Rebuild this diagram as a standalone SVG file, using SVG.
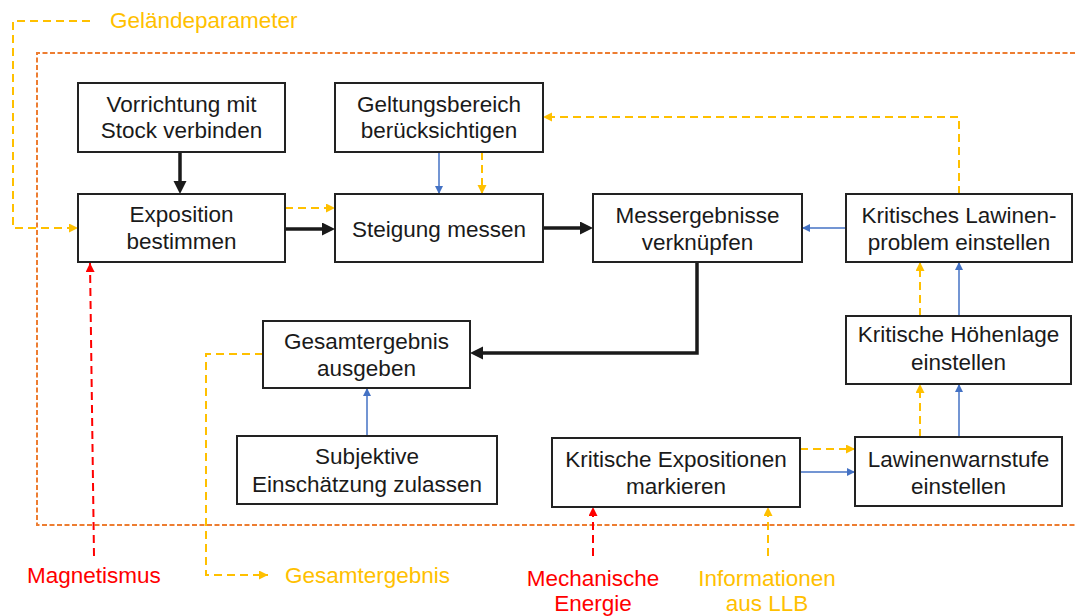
<svg xmlns="http://www.w3.org/2000/svg" width="1075" height="616" viewBox="0 0 1075 616">
  <style>
    .box{fill:#fff;stroke:#222;stroke-width:2}
    .t{font-family:"Liberation Sans",Arial,sans-serif;font-size:22.5px;fill:#1a1a1a;text-anchor:middle}
    .lbl{font-family:"Liberation Sans",Arial,sans-serif;font-size:22.5px}
    .blk{stroke:#1a1a1a;stroke-width:3.5;fill:none}
    .blu{stroke:#4472C4;stroke-width:1.5;fill:none}
    .ylw{stroke:#FFC000;stroke-width:2;fill:none;stroke-dasharray:8 5}
    .red{stroke:#FF0000;stroke-width:2;fill:none;stroke-dasharray:8 5}
    .org{stroke:#ED7D31;stroke-width:2;fill:none;stroke-dasharray:5 2.5}
  </style>
  <defs>
    <marker id="ahBlk" markerUnits="userSpaceOnUse" markerWidth="14" markerHeight="14" refX="9" refY="6.5" orient="auto">
      <path d="M0,0 L13,6.5 L0,13 z" fill="#1a1a1a"/>
    </marker>
    <marker id="ahBlu" markerUnits="userSpaceOnUse" markerWidth="10" markerHeight="10" refX="8" refY="4" orient="auto">
      <path d="M0,0 L8,4 L0,8 z" fill="#4472C4"/>
    </marker>
    <marker id="ahYlw" markerUnits="userSpaceOnUse" markerWidth="10" markerHeight="10" refX="9" refY="4.5" orient="auto">
      <path d="M0,0 L9,4.5 L0,9 z" fill="#FFC000"/>
    </marker>
    <marker id="ahRed" markerUnits="userSpaceOnUse" markerWidth="10" markerHeight="10" refX="9" refY="4.5" orient="auto">
      <path d="M0,0 L9,4.5 L0,9 z" fill="#FF0000"/>
    </marker>
  </defs>

  <!-- system boundary -->
  <path id="boundary" class="org" d="M1075,53 H37 V525 H1075"/>

  <!-- connectors -->
  <g id="connectors">
    <!-- main flow (black) -->
    <path class="blk" d="M180,152 V190" marker-end="url(#ahBlk)"/>
    <path class="blk" d="M285,229 H331" marker-end="url(#ahBlk)"/>
    <path class="blk" d="M543,228 H589" marker-end="url(#ahBlk)"/>
    <path class="blk" d="M697,262 V353 H474" marker-end="url(#ahBlk)"/>

    <!-- energy / signal flows (blue) -->
    <path class="blu" d="M439,152 V194" marker-end="url(#ahBlu)"/>
    <path class="blu" d="M846,228 H802" marker-end="url(#ahBlu)"/>
    <path class="blu" d="M367,436 V388" marker-end="url(#ahBlu)"/>
    <path class="blu" d="M959,316 V262" marker-end="url(#ahBlu)"/>
    <path class="blu" d="M959,437 V384" marker-end="url(#ahBlu)"/>
    <path class="blu" d="M800,472 H855" marker-end="url(#ahBlu)"/>

    <!-- information flows (yellow, dashed) -->
    <path class="ylw" d="M90,21 H13 V228 H78" marker-end="url(#ahYlw)"/>
    <path class="ylw" d="M285,208 H335" marker-end="url(#ahYlw)"/>
    <path class="ylw" d="M482,152 V194" marker-end="url(#ahYlw)"/>
    <path class="ylw" d="M959,194 V117 H543" marker-end="url(#ahYlw)"/>
    <path class="ylw" d="M920,316 V262" marker-end="url(#ahYlw)"/>
    <path class="ylw" d="M920,437 V384" marker-end="url(#ahYlw)"/>
    <path class="ylw" d="M800,449 H855" marker-end="url(#ahYlw)"/>
    <path class="ylw" d="M263,354 H206 V575 H268" marker-end="url(#ahYlw)"/>
    <path class="ylw" d="M768,556 V507" marker-end="url(#ahYlw)"/>

    <!-- external energy inputs (red, dashed) -->
    <path class="red" d="M94,556 L90,263" marker-end="url(#ahRed)"/>
    <path class="red" d="M593,556 V507" marker-end="url(#ahRed)"/>
  </g>

  <!-- nodes -->
  <g id="vorrichtung">
    <rect class="box" x="78" y="83" width="207" height="69"/>
    <text class="t" x="181.5" y="112">Vorrichtung mit</text>
    <text class="t" x="181.5" y="138">Stock verbinden</text>
  </g>
  <g id="exposition">
    <rect class="box" x="78" y="194" width="207" height="68"/>
    <text class="t" x="181.5" y="222">Exposition</text>
    <text class="t" x="181.5" y="249">bestimmen</text>
  </g>
  <g id="geltungsbereich">
    <rect class="box" x="335" y="83" width="208" height="69"/>
    <text class="t" x="439" y="112">Geltungsbereich</text>
    <text class="t" x="439" y="138">berücksichtigen</text>
  </g>
  <g id="steigung">
    <rect class="box" x="335" y="194" width="208" height="68"/>
    <text class="t" x="439" y="237">Steigung messen</text>
  </g>
  <g id="messergebnisse">
    <rect class="box" x="593" y="194" width="209" height="68"/>
    <text class="t" x="697.5" y="223">Messergebnisse</text>
    <text class="t" x="697.5" y="250">verknüpfen</text>
  </g>
  <g id="lawinenproblem">
    <rect class="box" x="846" y="194" width="226" height="68"/>
    <text class="t" x="959" y="223">Kritisches Lawinen-</text>
    <text class="t" x="959" y="250">problem einstellen</text>
  </g>
  <g id="gesamtergebnis">
    <rect class="box" x="263" y="321" width="207" height="67"/>
    <text class="t" x="366.5" y="349">Gesamtergebnis</text>
    <text class="t" x="366.5" y="376">ausgeben</text>
  </g>
  <g id="subjektiv">
    <rect class="box" x="237" y="436" width="260" height="68"/>
    <text class="t" x="367" y="464">Subjektive</text>
    <text class="t" x="367" y="492">Einschätzung zulassen</text>
  </g>
  <g id="hoehenlage">
    <rect class="box" x="846" y="316" width="225" height="68"/>
    <text class="t" x="958.5" y="342">Kritische Höhenlage</text>
    <text class="t" x="958.5" y="370">einstellen</text>
  </g>
  <g id="expositionen">
    <rect class="box" x="552" y="438" width="248" height="69"/>
    <text class="t" x="676" y="467">Kritische Expositionen</text>
    <text class="t" x="676" y="494">markieren</text>
  </g>
  <g id="warnstufe">
    <rect class="box" x="855" y="437" width="207" height="69"/>
    <text class="t" x="958.5" y="467">Lawinenwarnstufe</text>
    <text class="t" x="958.5" y="494">einstellen</text>
  </g>

  <!-- flow labels -->
  <g id="labels">
    <text class="lbl" x="110" y="28" fill="#FFC000">Geländeparameter</text>
    <text class="lbl" x="27" y="583" fill="#FF0000">Magnetismus</text>
    <text class="lbl" x="285" y="583" fill="#FFC000">Gesamtergebnis</text>
    <text class="lbl" x="593" y="586" fill="#FF0000" text-anchor="middle">Mechanische</text>
    <text class="lbl" x="593" y="611" fill="#FF0000" text-anchor="middle">Energie</text>
    <text class="lbl" x="767" y="586" fill="#FFC000" text-anchor="middle">Informationen</text>
    <text class="lbl" x="767" y="611" fill="#FFC000" text-anchor="middle">aus LLB</text>
  </g>
</svg>
